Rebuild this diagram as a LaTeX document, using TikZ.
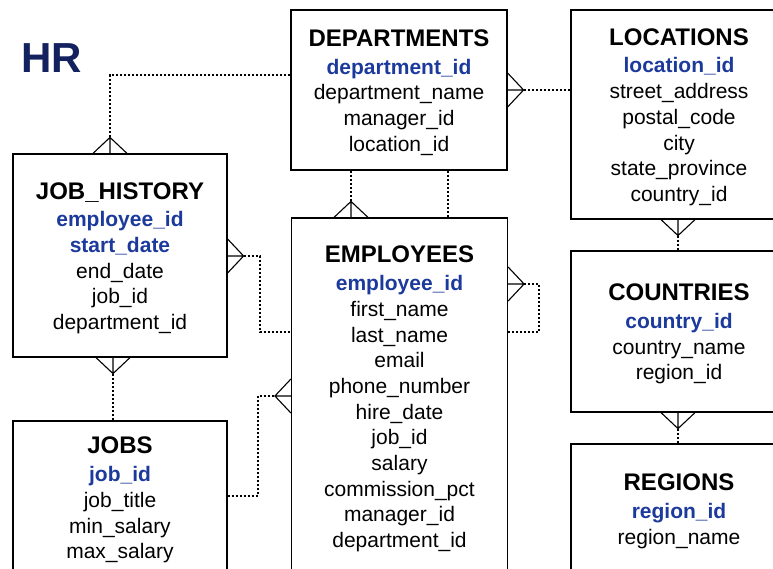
\documentclass[tikz,border=0pt]{standalone}
\usepackage{fontspec}
\setmainfont{Liberation Sans}
\usetikzlibrary{calc}

\definecolor{hrnavy}{HTML}{14215F}
\definecolor{keyblue}{HTML}{1C3A9C}

\newcommand{\tname}[1]{{\fontsize{24}{28}\selectfont\bfseries\rule{0pt}{22pt}#1}\\[2pt]}
\newcommand{\pk}[1]{{\color{keyblue}\bfseries #1}}

\tikzset{
  table/.style={draw, line width=1.2pt, minimum width=216pt, align=center,
    inner sep=0pt, font=\fontsize{21}{25.7}\selectfont},
  rel/.style={line width=1.2pt, dash pattern=on 2pt off 2pt},
  crow/.pic={
    \draw[line width=1.1pt] (0,-17) -- (16,0) -- (0,17) (0,0) -- (16,0);
    \coordinate (-apex) at (16,0);
  }
}

\begin{document}
\begin{tikzpicture}[x=1pt,y=-1pt]
\useasboundingbox (0,0) rectangle (773,569);

% Title
\node[text=hrnavy, font=\fontsize{42}{46}\selectfont\bfseries, anchor=west] (title) at (18,58) {HR};

% Tables
\node[table, minimum height=160pt] (dept) at (399,90)
  {\tname{DEPARTMENTS}\pk{department\_id}\\department\_name\\manager\_id\\location\_id};
\node[table, minimum height=357pt] (emp) at (399.5,396.5)
  {\tname{EMPLOYEES}\pk{employee\_id}\\first\_name\\last\_name\\email\\phone\_number\\hire\_date\\job\_id\\salary\\commission\_pct\\manager\_id\\department\_id};
\node[table, minimum width=214pt, minimum height=203pt] (jh) at (120,255.5)
  {\tname{JOB\_HISTORY}\pk{employee\_id}\\\pk{start\_date}\\end\_date\\job\_id\\department\_id};
\node[table, minimum width=214pt, minimum height=153pt] (jobs) at (120,497.5)
  {\tname{JOBS}\pk{job\_id}\\job\_title\\min\_salary\\max\_salary};
\node[table, minimum height=209pt] (loc) at (679,114.5)
  {\tname{LOCATIONS}\pk{location\_id}\\street\_address\\postal\_code\\city\\state\_province\\country\_id};
\node[table, minimum height=161pt] (ctry) at (679,331.5)
  {\tname{COUNTRIES}\pk{country\_id}\\country\_name\\region\_id};
\node[table, minimum height=129pt] (reg) at (679,508.5)
  {\tname{REGIONS}\pk{region\_id}\\region\_name};

% Crow's feet
\pic[rotate=90]  (fjh)   at (jh.north -| 110,0)   {crow};
\pic[rotate=90]  (femp)  at (emp.north -| 351,0)  {crow};
\pic             (fjhe)  at (jh.east |- 0,256)    {crow};
\pic             (fmgr)  at (emp.east |- 0,284)   {crow};
\pic[rotate=-90] (fjob)  at (jh.south -| 113,0)   {crow};
\pic[rotate=180] (fejob) at (emp.west |- 0,396)   {crow};
\pic             (fdep)  at (dept.east |- 0,90)   {crow};
\pic[rotate=-90] (floc)  at (loc.south -| 678,0)  {crow};
\pic[rotate=-90] (fctry) at (ctry.south -| 678,0) {crow};

% Relationships
\draw[rel] (dept.west |- 0,75) -| (fjh-apex);
\draw[rel] (dept.south -| femp-apex) -- (femp-apex);
\draw[rel] (dept.south -| 448,0) -- (emp.north -| 448,0);
\draw[rel] (fjhe-apex) -| (260,332) -- (emp.west |- 0,332);
\draw[rel] (fmgr-apex) -| (539,332) -- (emp.east |- 0,332);
\draw[rel] (fjob-apex) -- (jobs.north -| fjob-apex);
\draw[rel] (jobs.east |- 0,496) -| (258,396) -- (fejob-apex);
\draw[rel] (fdep-apex) -- (loc.west |- fdep-apex);
\draw[rel] (floc-apex) -- (ctry.north -| floc-apex);
\draw[rel] (fctry-apex) -- (reg.north -| fctry-apex);

\end{tikzpicture}
\end{document}
